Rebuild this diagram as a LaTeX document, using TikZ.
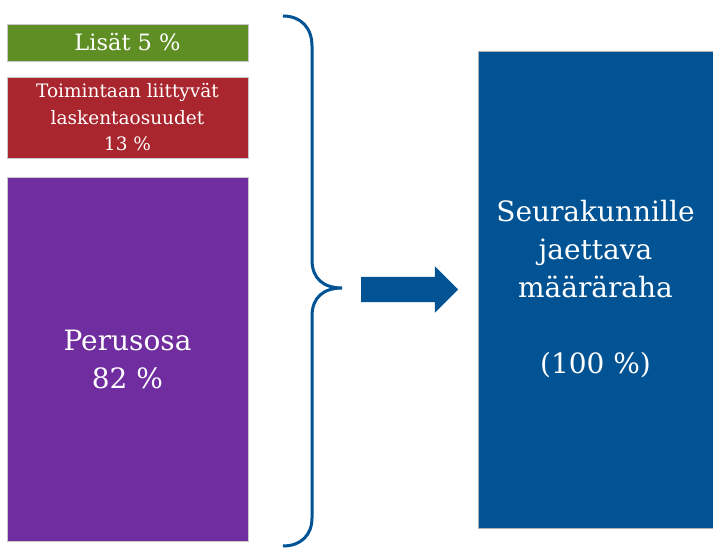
\documentclass[tikz,border=0pt]{standalone}
\usepackage{fontspec}
\setmainfont{DejaVu Serif}
\usetikzlibrary{shapes.arrows}
\definecolor{lisgreen}{HTML}{5E8E24}
\definecolor{toimred}{HTML}{A9262F}
\definecolor{perpurple}{HTML}{6F2DA0}
\definecolor{mainblue}{HTML}{025394}
\definecolor{edgegray}{HTML}{C8C8C8}
\tikzset{
  part/.style={rectangle, draw=edgegray, line width=0.8pt, text=white, align=center,
    minimum width=241pt, inner sep=0pt},
  brace/.style={draw=mainblue, line width=3pt},
}
\begin{document}
\begin{tikzpicture}[x=1pt,y=-1pt]
\useasboundingbox[fill=white] (0,0) rectangle (713,548);
\node[part, fill=lisgreen, minimum height=37pt, font=\fontsize{22.5}{26}\selectfont] (lisat) at (127.5,42.5) {Lisät 5 \%};
\node[part, fill=toimred, minimum height=81pt, font=\fontsize{18.5}{26.5}\selectfont] (toim) at (127.5,117.5) {Toimintaan liittyvät\\laskentaosuudet\\13 \%};
\node[part, fill=perpurple, minimum height=364pt, font=\fontsize{28}{38}\selectfont] (perus) at (127.5,359) {Perusosa\\82 \%};
\node[rectangle, draw=gray!60, line width=0.8pt, fill=mainblue, text=white, align=center,
  minimum width=235pt, minimum height=477pt, inner sep=0pt, font=\fontsize{28}{38}\selectfont]
  (total) at (595.5,289.5) {Seurakunnille\\jaettava\\määräraha\\[38pt](100 \%)};
\coordinate (btop) at (283,16);
\coordinate (btip) at (342,288);
\coordinate (bbot) at (283,546);
\draw[brace] (btop) .. controls (301,16) and (312,28) .. (312,46) -- (312,260)
  .. controls (312,279) and (324,288) .. (btip)
  .. controls (324,288) and (312,297) .. (312,316) -- (312,518)
  .. controls (312,535) and (301,546) .. (bbot);
\node[single arrow, fill=mainblue, draw=none, minimum height=97pt, minimum width=46pt,
  single arrow head extend=10.5pt, inner xsep=0pt, inner ysep=12.5pt, outer sep=0pt,
  anchor=tail] (arrow) at (361,289.5) {};
\end{tikzpicture}
\end{document}
